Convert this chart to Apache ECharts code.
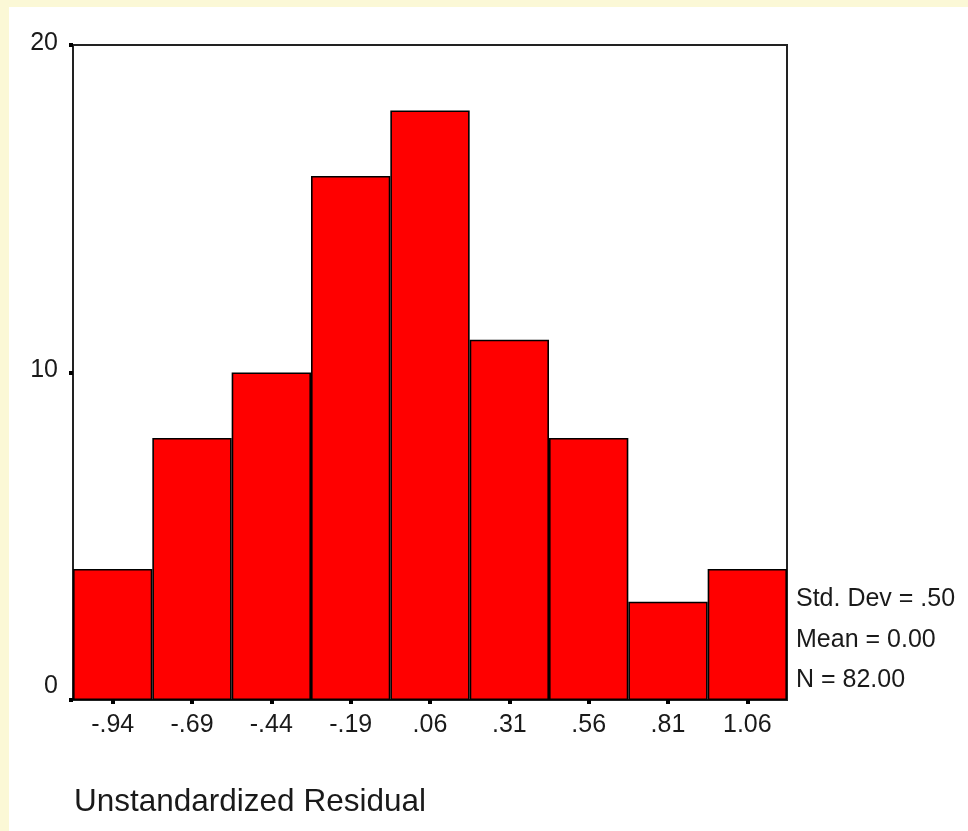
<!DOCTYPE html>
<html>
<head>
<meta charset="utf-8">
<title>Unstandardized Residual</title>
<script src="https://cdn.jsdelivr.net/npm/echarts@6/dist/echarts.min.js"></script>
<style>
  html, body { margin: 0; padding: 0; background: #FBF8D6; }
  #chart { position: absolute; left: 9px; top: 7px; width: 959px; height: 824px; background: #ffffff; }
</style>
</head>
<body>
<div id="chart"></div>
<script>
// Histogram bins (midpoints) and frequencies
const binLabels = ['-.94', '-.69', '-.44', '-.19', '.06', '.31', '.56', '.81', '1.06'];
const frequencies = [4, 8, 10, 16, 18, 11, 8, 3, 4];
const yTicks = [0, 10, 20];
const statLines = ['Std. Dev = .50', 'Mean = 0.00', 'N = 82.00'];
const axisTitle = 'Unstandardized Residual';

const FONT = '"Liberation Sans", Arial, sans-serif';
const TEXT = '#1a1a1a';
const SIZE = 25;

const chart = echarts.init(document.getElementById('chart'), null, { renderer: 'canvas' });

chart.setOption({
  animation: false,
  backgroundColor: '#ffffff',
  grid: {
    left: 64, top: 38, right: 181, bottom: 131,
    show: true, borderColor: '#222', borderWidth: 2, backgroundColor: 'transparent'
  },
  title: {
    text: axisTitle,
    left: 65, top: 779, padding: 0,
    textStyle: { fontFamily: FONT, fontSize: 31.5, fontWeight: 'normal', color: TEXT }
  },
  xAxis: {
    type: 'category',
    data: binLabels,
    offset: 3,
    axisLine: { show: false },
    axisTick: { show: true, alignWithLabel: true, length: 4, lineStyle: { color: '#000', width: 4 } },
    axisLabel: { margin: 10, fontFamily: FONT, fontSize: SIZE, color: TEXT, verticalAlign: 'top' },
    splitLine: { show: false }
  },
  yAxis: {
    type: 'value',
    min: yTicks[0], max: yTicks[yTicks.length - 1], interval: 10,
    axisLine: { show: false },
    axisTick: { show: true, length: 4, lineStyle: { color: '#000', width: 4 } },
    splitLine: { show: false },
    axisLabel: {
      margin: 15,
      fontFamily: FONT, fontSize: SIZE, color: TEXT,
      formatter: v => v === 0 ? '{low|0}' : '{std|' + v + '}',
      rich: {
        low: { fontFamily: FONT, fontSize: SIZE, color: TEXT, padding: [0, 0, 27, 0] },
        std: { fontFamily: FONT, fontSize: SIZE, color: TEXT, padding: [0, 0, 4, 0] }
      }
    }
  },
  series: [{
    type: 'bar',
    data: frequencies,
    barCategoryGap: 0,
    itemStyle: { color: '#FF0000', borderColor: '#000', borderWidth: 1.6 }
  }],
  graphic: statLines.map((line, i) => ({
    type: 'text',
    left: 787,
    top: 580 + i * 40.5,
    style: { text: line, fontFamily: FONT, fontSize: SIZE, fill: TEXT }
  }))
});
</script>
</body>
</html>
